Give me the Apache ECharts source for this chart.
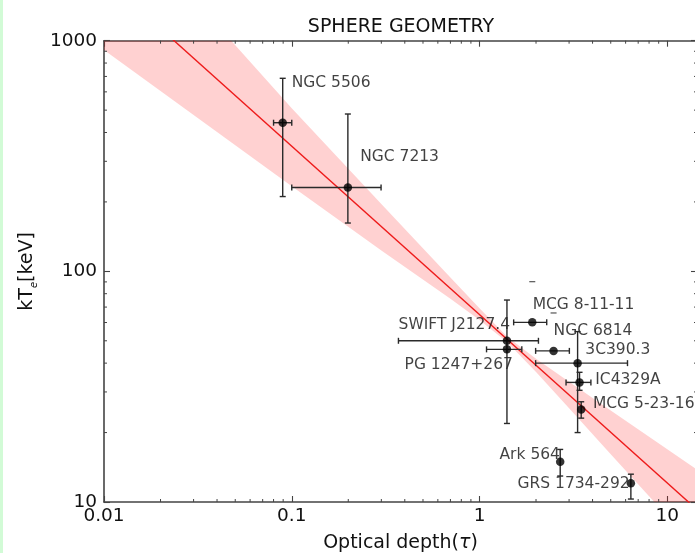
<!DOCTYPE html>
<html><head><meta charset="utf-8">
<script src="https://cdn.jsdelivr.net/npm/echarts@6/dist/echarts.min.js"></script>
<style>html,body{margin:0;padding:0;background:#fff}#c{width:695px;height:553px}</style>
</head><body><div id="c"></div>
<script>
// ---- data ----
const sourceNames = ['NGC 5506','NGC 7213','MCG 8-11-11','SWIFT J2127.4','NGC 6814','3C390.3','PG 1247+267','IC4329A','MCG 5-23-16','Ark 564','GRS 1734-292'];
const tau    = [0.0895, 0.199, 1.91, 1.40, 2.48, 3.33, 1.40, 3.41, 3.48, 2.69, 6.40];
const kTe    = [441, 231, 60.1, 50.0, 45.2, 40.0, 45.9, 33.0, 25.2, 14.95, 12.05];
const tauLo  = [0.080, 0.100, 1.52, 0.37, 1.99, 1.99, 1.09, 2.89, 3.48, 2.69, 6.40];
const tauHi  = [0.100, 0.299, 2.28, 2.06, 3.01, 6.14, 1.68, 3.92, 3.48, 2.69, 6.40];
const kTeLo  = [211, 162, 60.1, 50.0, 45.2, 20.0, 21.9, 30.5, 23.1, 12.96, 10.3];
const kTeHi  = [687, 481, 60.1, 50.0, 45.2, 54.8, 75.1, 36.5, 27.2, 16.9, 13.2];
// lone error-bar caps visible without their bars
const capTau = [1.91, 2.48];
const capKTe = [90.2, 66.0];
// best-fit line and its confidence band
const fitTau = [0.01, 20];
const fitKTe = [1873, 7.29];
const bandTau = [0.01, 0.03, 0.1, 0.3, 0.7, 1.0, 1.4, 2, 3, 5, 8, 15, 20];
const bandHi  = [4338, 1520, 510, 196, 94.0, 69.2, 52.2, 41.8, 33.2, 24.9, 19.2, 13.5, 11.5];
const bandLo  = [912, 476, 234, 123, 76.0, 61.5, 49.4, 36.6, 25.5, 16.1, 10.6, 6.0, 4.6];
// axes
const xTicks = [0.01, 0.1, 1, 10];
const xTickLabels = ['0.01', '0.1', '1', '10'];
const yTicks = [10, 100, 1000];
const yTickLabels = ['10', '100', '1000'];
const xMinor = [0.02,0.03,0.04,0.05,0.06,0.07,0.08,0.09,0.2,0.3,0.4,0.5,0.6,0.7,0.8,0.9,2,3,4,5,6,7,8,9];
const yMinor = [20,30,40,50,60,70,80,90,200,300,400,500,600,700,800,900];

// ---- layout / style ----
const labelOffsets = [[9,-39.7],[12.3,-30.8],[0.4,-17.3],[-108.4,-15.7],[0,-19.5],[7.7,-13.3],[-102.4,15.7],[15.7,-2.3],[11.7,-5.8],[-60.7,-6.7],[-113.4,0.2]];
const FONT = 'DejaVu Sans';
const AX = '#444';
const TXT = '#111';

function fmt(ticks, labels) {
  return function (v) {
    for (let i = 0; i < ticks.length; i++) if (Math.abs(v - ticks[i]) / ticks[i] < 1e-6) return labels[i];
    return '';
  };
}

const chart = echarts.init(document.getElementById('c'), null, {renderer: 'canvas'});

const axisCommon = {
  type: 'log', logBase: 10,
  axisLine: {show: true, lineStyle: {color: AX, width: 1.6}},
  axisTick: {show: true, inside: true, length: 6, lineStyle: {color: AX, width: 1.1}},
  splitLine: {show: false}, minorTick: {show: false}
};

const option = {
  animation: false,
  backgroundColor: '#ffffff',
  graphic: [
    {type: 'rect', left: 0, top: 0, shape: {width: 3, height: 553}, style: {fill: '#d2fbd6'}},
    {type: 'text', x: 401, y: 27, style: {text: 'SPHERE GEOMETRY', font: '19px "DejaVu Sans"', fill: TXT, textAlign: 'center', textVerticalAlign: 'middle'}}
  ],
  grid: {left: 104, top: 40.7, width: 593, height: 461.3, containLabel: false, outerBoundsMode: 'none'},
  xAxis: [
    Object.assign({}, axisCommon, {
      position: 'bottom', min: 0.01, max: 14.4,
      axisLabel: {formatter: fmt(xTicks, xTickLabels), color: TXT, fontSize: 18.5, fontFamily: FONT, margin: 5, showMaxLabel: false},
      name: '{a|Optical depth(}{t|τ}{a|)}', nameLocation: 'middle', nameGap: 41,
      nameTextStyle: {verticalAlign: 'middle', rich: {a: {fontSize: 19, fontFamily: FONT, color: TXT}, t: {fontSize: 19, fontFamily: FONT, fontStyle: 'italic', color: TXT}}}
    }),
    Object.assign({}, axisCommon, {position: 'top', min: 0.01, max: 14.4, axisLabel: {show: false}})
  ],
  yAxis: [
    Object.assign({}, axisCommon, {
      position: 'left', min: 10, max: 1000,
      axisLabel: {formatter: fmt(yTicks, yTickLabels), color: TXT, fontSize: 18.5, fontFamily: FONT, margin: 7},
      name: '{a|kT}{e|e}{a|[keV]}', nameLocation: 'middle', nameGap: 76,
      nameTextStyle: {verticalAlign: 'middle', rich: {
        a: {fontSize: 19, fontFamily: FONT, color: TXT, lineHeight: 24, verticalAlign: 'middle'},
        e: {fontSize: 10, fontFamily: FONT, fontStyle: 'italic', color: TXT, lineHeight: 10, verticalAlign: 'bottom'}
      }}
    }),
    Object.assign({}, axisCommon, {position: 'right', min: 10, max: 1000, axisLabel: {show: false}})
  ],
  series: [
    // confidence band
    {
      type: 'custom', z: 1, silent: true,
      data: [[bandTau[0], bandHi[0]]],
      renderItem: function (params, api) {
        const pts = [];
        for (let i = 0; i < bandTau.length; i++) pts.push(api.coord([bandTau[i], bandHi[i]]));
        for (let i = bandTau.length - 1; i >= 0; i--) pts.push(api.coord([bandTau[i], bandLo[i]]));
        const cs = params.coordSys;
        return {type: 'polygon', shape: {points: pts}, style: {fill: 'rgba(255,0,0,0.18)', stroke: null},
          clipPath: {type: 'rect', shape: {x: cs.x, y: cs.y, width: cs.width, height: cs.height}}};
      }
    },
    // fit line
    {
      type: 'line', z: 2, silent: true, symbol: 'none', clip: true,
      data: fitTau.map((t, i) => [t, fitKTe[i]]),
      lineStyle: {color: '#ee1b1b', width: 1.4}
    },
    // minor ticks (x)
    {
      type: 'custom', z: 5, silent: true,
      data: xMinor.map(v => [v, 100]),
      renderItem: function (params, api) {
        const cs = params.coordSys; const px = api.coord([api.value(0), 100])[0];
        const st = {stroke: AX, lineWidth: 1};
        return {type: 'group', children: [
          {type: 'line', shape: {x1: px, y1: cs.y + cs.height, x2: px, y2: cs.y + cs.height - 3}, style: st},
          {type: 'line', shape: {x1: px, y1: cs.y, x2: px, y2: cs.y + 3}, style: st}
        ]};
      }
    },
    // minor ticks (y)
    {
      type: 'custom', z: 5, silent: true,
      data: yMinor.map(v => [1, v]),
      renderItem: function (params, api) {
        const cs = params.coordSys; const py = api.coord([1, api.value(1)])[1];
        const st = {stroke: AX, lineWidth: 1};
        return {type: 'group', children: [
          {type: 'line', shape: {x1: cs.x, y1: py, x2: cs.x + 3, y2: py}, style: st},
          {type: 'line', shape: {x1: cs.x + cs.width, y1: py, x2: cs.x + cs.width - 3, y2: py}, style: st}
        ]};
      }
    },
    // labels
    {
      type: 'scatter', z: 3, silent: true, symbolSize: 0,
      data: sourceNames.map((n, i) => ({name: n, value: [tau[i], kTe[i]], label: {offset: labelOffsets[i]}})),
      label: {show: true, position: 'inside', align: 'left', verticalAlign: 'middle', formatter: '{b}', color: TXT, fontSize: 15.5, fontFamily: FONT}
    },
    // error bars
    {
      type: 'custom', z: 4, silent: true,
      data: tau.map((t, i) => [t, kTe[i], tauLo[i], tauHi[i], kTeLo[i], kTeHi[i]]),
      renderItem: function (params, api) {
        const x = api.value(0), y = api.value(1), xl = api.value(2), xh = api.value(3), yl = api.value(4), yh = api.value(5);
        const st = {stroke: '#2a2a2a', lineWidth: 1.4};
        const ch = []; const cw = 3;
        if (xl !== xh) {
          const a = api.coord([xl, y]), b = api.coord([xh, y]);
          ch.push({type: 'line', shape: {x1: a[0], y1: a[1], x2: b[0], y2: b[1]}, style: st});
          ch.push({type: 'line', shape: {x1: a[0], y1: a[1] - cw, x2: a[0], y2: a[1] + cw}, style: st});
          ch.push({type: 'line', shape: {x1: b[0], y1: b[1] - cw, x2: b[0], y2: b[1] + cw}, style: st});
        }
        if (yl !== yh) {
          const a = api.coord([x, yl]), b = api.coord([x, yh]);
          ch.push({type: 'line', shape: {x1: a[0], y1: a[1], x2: b[0], y2: b[1]}, style: st});
          ch.push({type: 'line', shape: {x1: a[0] - cw, y1: a[1], x2: a[0] + cw, y2: a[1]}, style: st});
          ch.push({type: 'line', shape: {x1: b[0] - cw, y1: b[1], x2: b[0] + cw, y2: b[1]}, style: st});
        }
        return {type: 'group', children: ch};
      }
    },
    // lone caps
    {
      type: 'custom', z: 4, silent: true,
      data: capTau.map((t, i) => [t, capKTe[i]]),
      renderItem: function (params, api) {
        const p = api.coord([api.value(0), api.value(1)]);
        return {type: 'line', shape: {x1: p[0] - 3, y1: p[1], x2: p[0] + 3, y2: p[1]}, style: {stroke: '#555', lineWidth: 1.2}};
      }
    },
    // points
    {
      type: 'scatter', z: 6, silent: true, symbol: 'circle', symbolSize: 8.5,
      itemStyle: {color: '#000'},
      data: tau.map((t, i) => [t, kTe[i]])
    }
  ]
};
chart.setOption(option);
</script>
</body></html>
